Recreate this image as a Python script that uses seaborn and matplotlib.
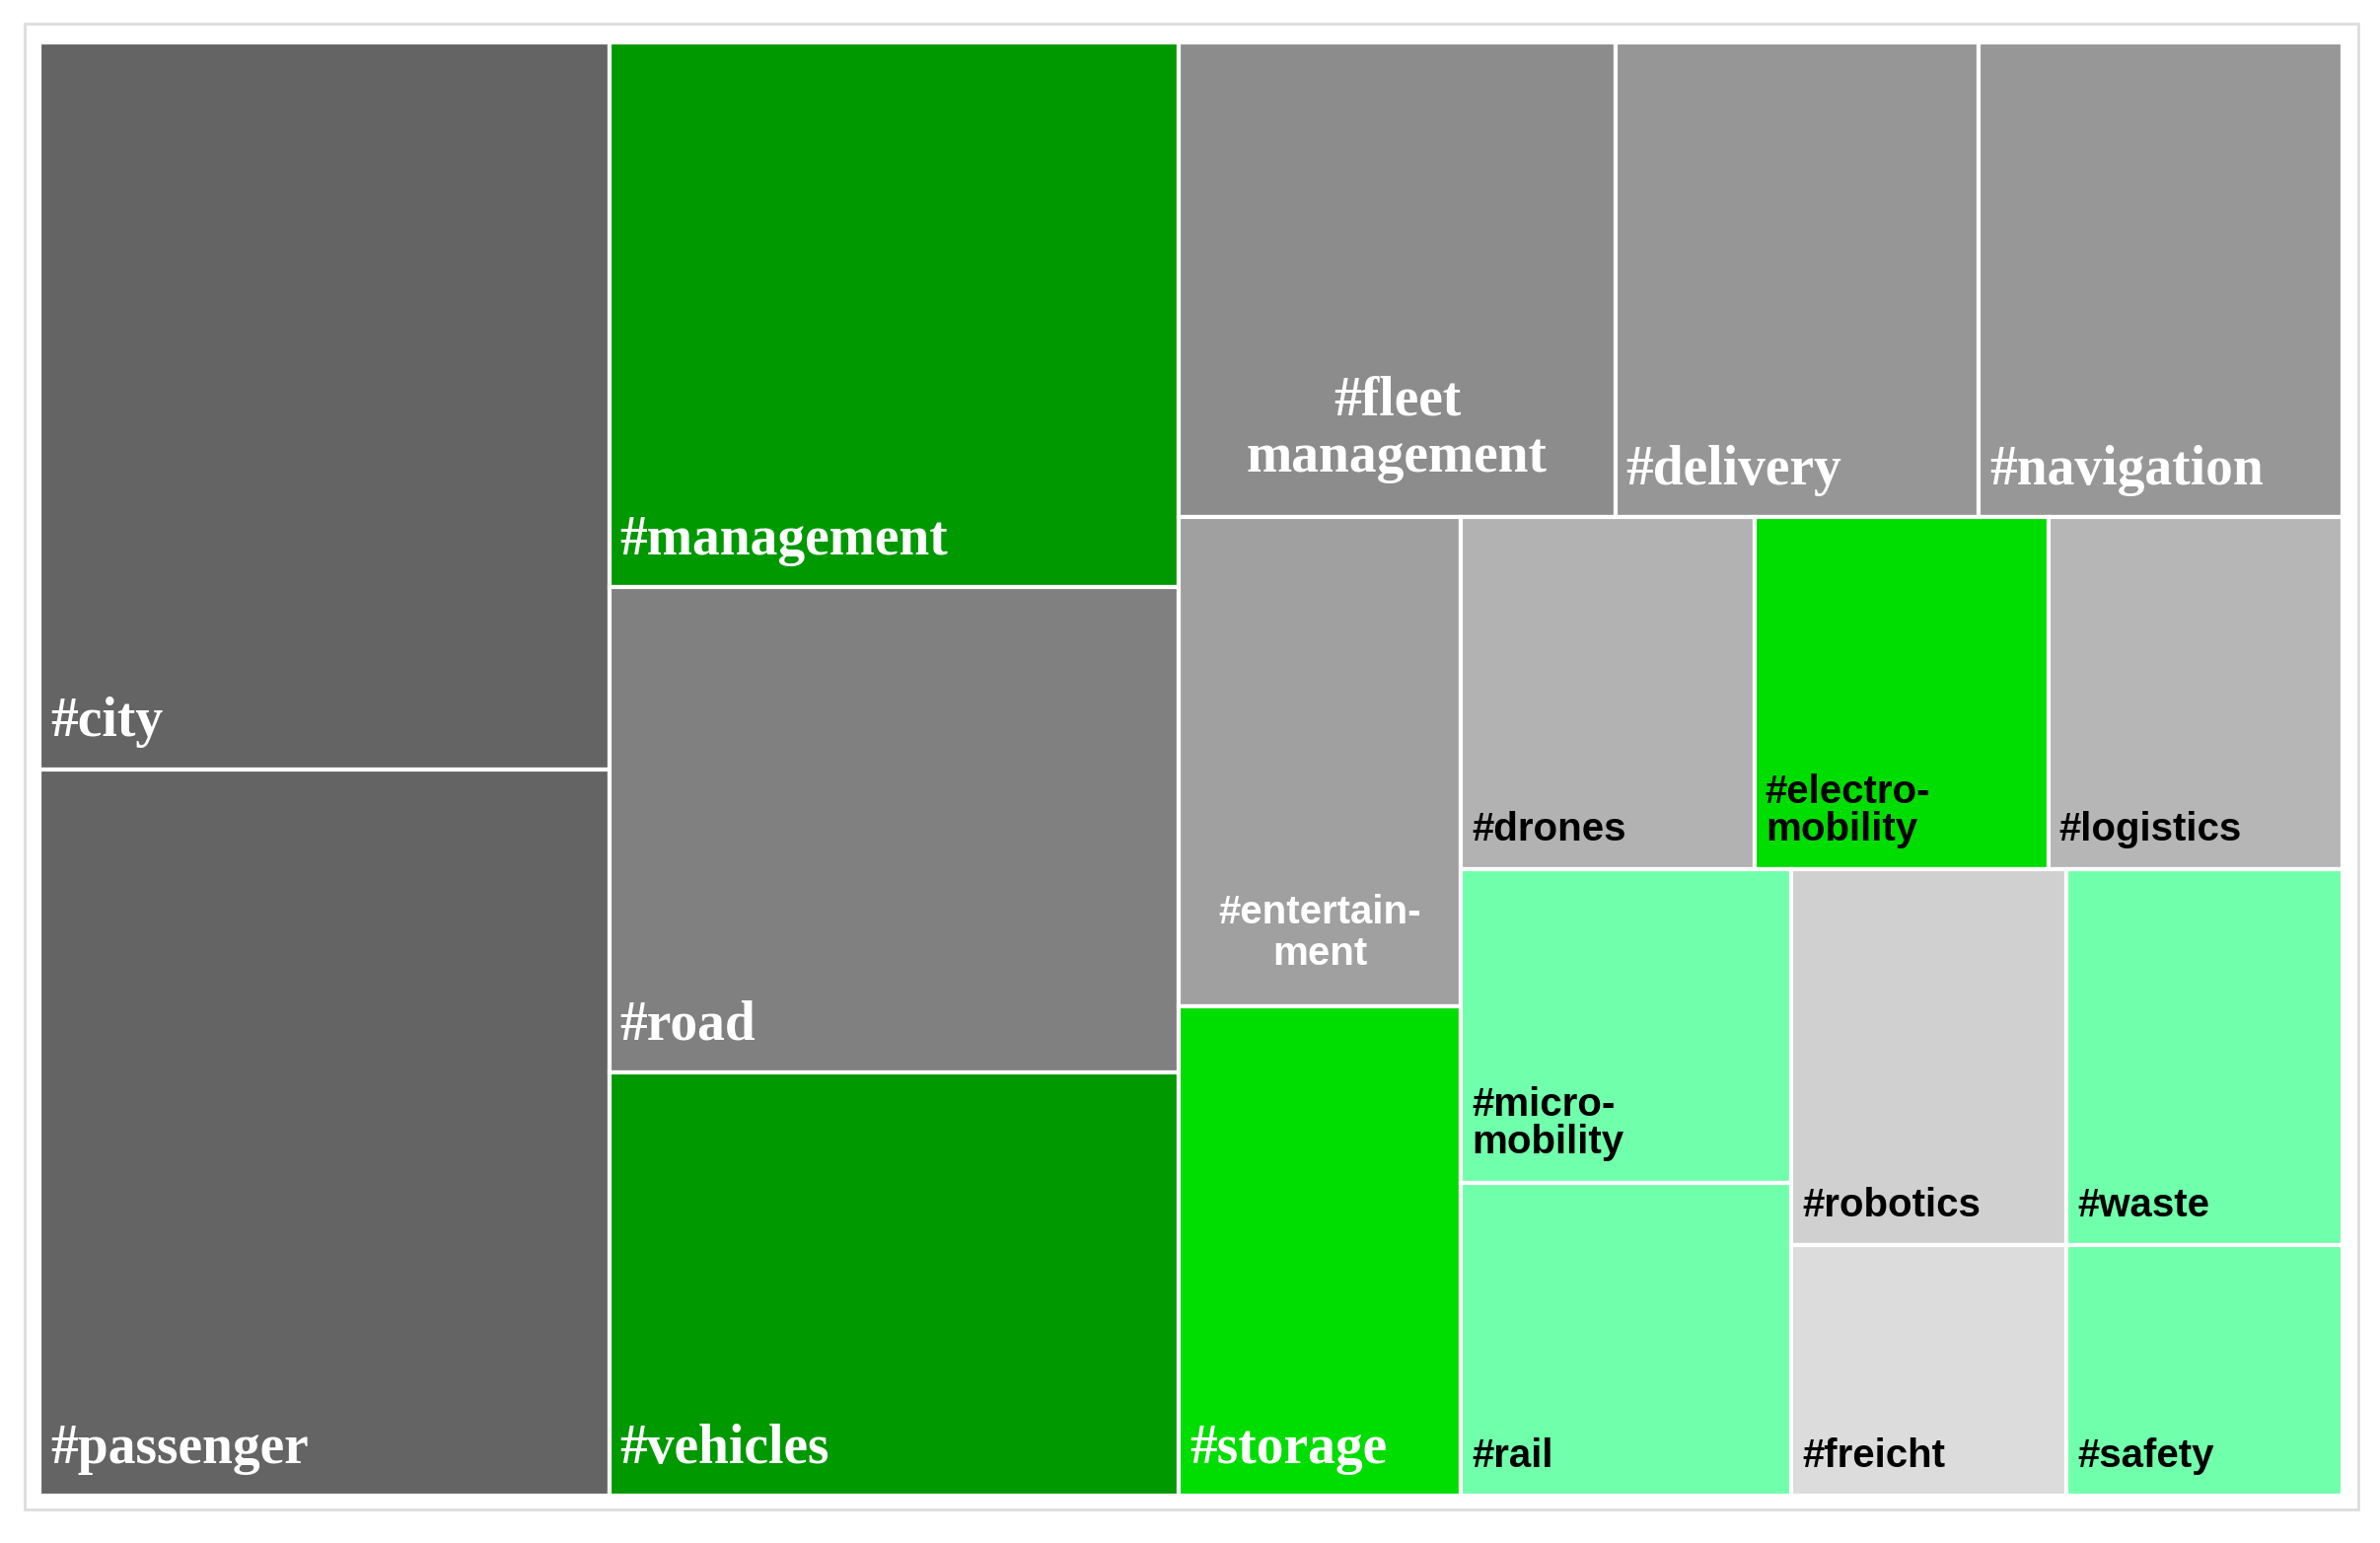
import matplotlib
matplotlib.use("Agg")
import matplotlib.pyplot as plt
import seaborn as sns
from matplotlib.patches import Rectangle

sns.set_theme(style="white")

# values (area units)
names = ["city", "passenger", "management", "road", "vehicles",
         "fleet", "delivery", "navigation", "entertainment", "storage",
         "drones", "electro", "logistics", "micro", "rail",
         "robotics", "freicht", "waste", "safety"]
values = [12, 12, 9, 8, 7, 6, 5, 5, 4, 4, 3, 3, 3, 3, 3, 3, 2, 3, 2]
labels = ["#city", "#passenger", "#management", "#road", "#vehicles",
          "#fleet\nmanagement", "#delivery", "#navigation", "#entertain-\nment", "#storage",
          "#drones", "#electro-\nmobility", "#logistics", "#micro-\nmobility", "#rail",
          "#robotics", "#freicht", "#waste", "#safety"]
colors = ["#646464", "#646464", "#009900", "#808080", "#009900",
          "#8c8c8c", "#969696", "#979797", "#a0a0a0", "#00dd00",
          "#b2b2b2", "#00dd00", "#b6b6b6", "#70ffaa", "#70ffaa",
          "#d0d0d0", "#dcdcdc", "#70ffaa", "#70ffaa"]
serif = {"city", "passenger", "management", "road", "vehicles",
         "fleet", "delivery", "navigation", "storage"}
white_text = serif | {"entertainment"}

val = dict(zip(names, values))

# nesting of the slice-and-dice layout ("h" = side by side, "v" = stacked)
tree = ("h", [("v", ["city", "passenger"]),
              ("v", ["management", "road", "vehicles"]),
              ("v", [("h", ["fleet", "delivery", "navigation"]),
                     ("h", [("v", ["entertainment", "storage"]),
                            ("v", [("h", ["drones", "electro", "logistics"]),
                                   ("h", [("v", ["micro", "rail"]),
                                          ("v", ["robotics", "freicht"]),
                                          ("v", ["waste", "safety"])])])])])])


def total(node):
    if isinstance(node, str):
        return val[node]
    return sum(total(c) for c in node[1])


def layout(node, x, y, w, h, out):
    if isinstance(node, str):
        out[node] = (x, y, w, h)
        return
    kind, kids = node
    s = total(node)
    pos_x, pos_y = x, y + h
    for k in kids:
        f = total(k) / s
        if kind == "h":
            layout(k, pos_x, y, w * f, h, out)
            pos_x += w * f
        else:
            layout(k, x, pos_y - h * f, w, h * f, out)
            pos_y -= h * f


W, H = 1517, 957
rects = {}
layout(tree, 0, 0, W, H, rects)

fig = plt.figure(figsize=(24.13, 15.64), dpi=100)
fig.patches.append(Rectangle((0.0105, 0.0215), 0.9805, 0.963, transform=fig.transFigure,
                             fill=False, edgecolor="#dddddd", linewidth=2))
ax = fig.add_axes([0.0166, 0.0305, 0.9675, 0.942])
ax.set_xlim(0, W)
ax.set_ylim(0, H)
ax.axis("off")

for n, lab, c in zip(names, labels, colors):
    x, y, w, h = rects[n]
    ax.add_patch(Rectangle((x, y), w, h, facecolor=c, edgecolor="white", linewidth=3))
    tc = "white" if n in white_text else "black"
    if n in serif:
        kw = dict(family="Liberation Serif", fontweight="bold", fontsize=40)
    else:
        kw = dict(family="Liberation Sans", fontweight="bold", fontsize=29)
    if n in ("entertainment", "fleet"):
        ax.text(x + w / 2, y + 22, lab, ha="center", va="bottom", color=tc,
                linespacing=1.15, **kw)
    else:
        ax.text(x + 7, y + 14, lab, ha="left", va="bottom", color=tc,
                linespacing=1.0, **kw)

fig.savefig("out.png", dpi=100, facecolor="white")
